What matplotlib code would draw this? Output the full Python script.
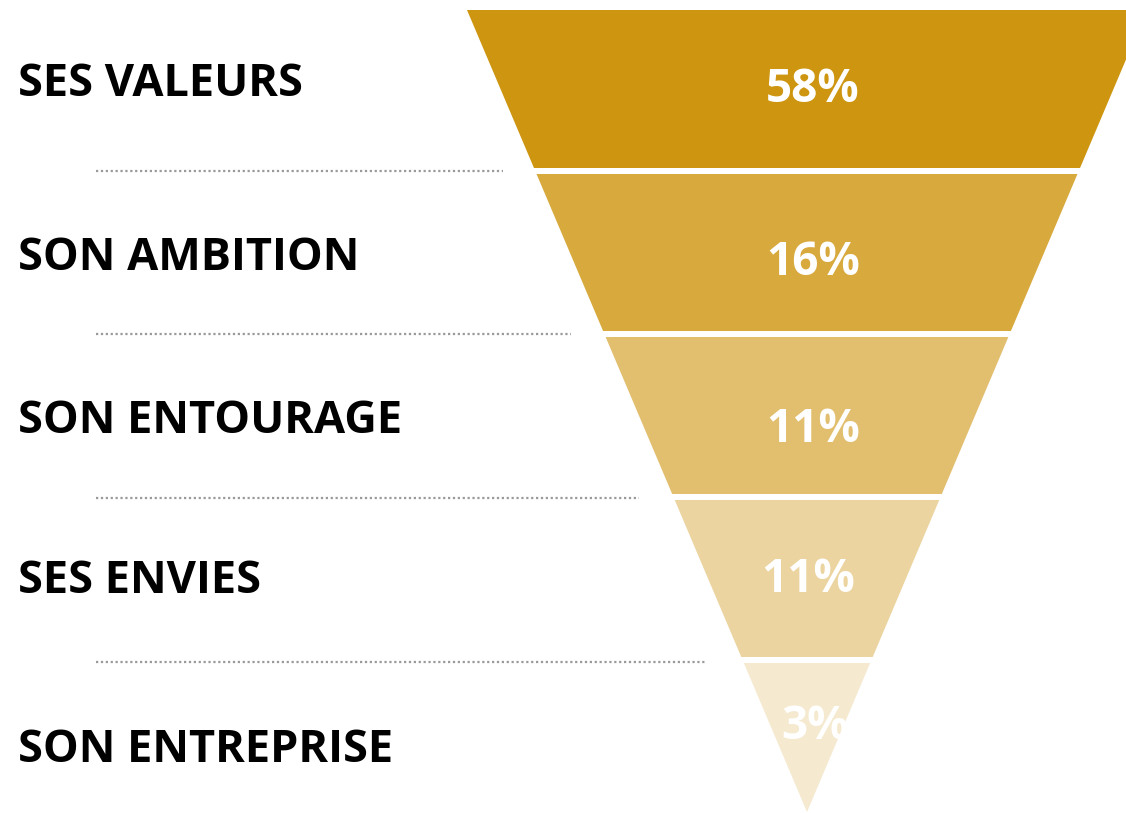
import matplotlib.pyplot as plt
from matplotlib.patches import Polygon

plt.rcParams['font.family'] = ['Open Sans', 'DejaVu Sans']

# --- data ---
labels = ['SES VALEURS', 'SON AMBITION', 'SON ENTOURAGE', 'SES ENVIES', 'SON ENTREPRISE']
values = [58, 16, 11, 11, 3]
colors = ['#CD9510', '#D8AA3E', '#E2BF6F', '#EBD49F', '#F5E9CF']

# --- geometry (pixel space) ---
W, H = 1126, 813
top_y, apex_y = 10, 812
cx, half_top = 807, 340
seg_top = [10, 174, 337, 500, 663]
seg_bot = [168, 331, 494, 657, 812]
n = len(values)

def half_width(y):
    return half_top * (apex_y - y) / (apex_y - top_y)

fig = plt.figure(figsize=(W / 100, H / 100), dpi=100)
ax = fig.add_axes([0, 0, 1, 1])
ax.set_xlim(0, W)
ax.set_ylim(H, 0)
ax.axis('off')

label_y = [85, 258, 421, 581, 750]
pct_y = [89, 262, 429, 579, 726]
text_dx = [6, 6, 6, 1, 8]
line_y = [171, 334, 498, 662]
line_x1 = [503, 571, 639, 707]

for i, (lab, v, c) in enumerate(zip(labels, values, colors)):
    y0, y1 = seg_top[i], seg_bot[i]
    w0, w1 = half_width(y0), half_width(y1)
    if i == n - 1:
        pts = [(cx - w0, y0), (cx + w0, y0), (cx, apex_y)]
    else:
        pts = [(cx - w0, y0), (cx + w0, y0), (cx + w1, y1), (cx - w1, y1)]
    poly = Polygon(pts, closed=True, facecolor=c, edgecolor='none')
    ax.add_patch(poly)

    t = ax.text(cx + text_dx[i], pct_y[i], f'{v}%', ha='center', va='center',
                color='white', fontsize=33, fontweight='bold')
    t.set_clip_path(poly)

    ax.text(18, label_y[i], lab, ha='left', va='center', color='black',
            fontsize=32.5, fontweight='bold')

    if i < n - 1:
        ax.plot([96, line_x1[i]], [line_y[i], line_y[i]], color='#9a9a9a', lw=1.6,
                linestyle=(0, (1, 1.2)))

fig.savefig('out.png', dpi=100)
